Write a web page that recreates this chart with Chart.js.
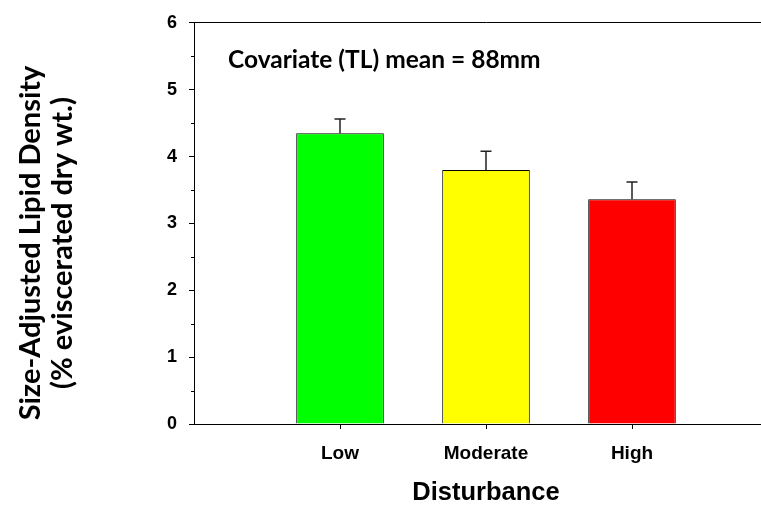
<!DOCTYPE html>
<html lang="en">
<head>
    <meta charset="UTF-8">
    <title>Size-Adjusted Lipid Density by Disturbance</title>
    <script src="https://cdn.jsdelivr.net/npm/chart.js"></script>
    <style>
        body {
            margin: 0;
            background: #fff;
            overflow: hidden;
        }
        /* the original plot runs a little past the right edge of the picture */
        .chart-box {
            width: 778px;
            height: 508px;
        }
    </style>
</head>
<body>
    <div class="chart-box">
        <canvas id="lipidChart"></canvas>
    </div>

    <script>
        // Data
        const categories = ['Low', 'Moderate', 'High'];
        const lipidMeans = [4.35, 3.80, 3.36];
        const lipidSE = [0.21, 0.28, 0.26];
        const barColors = ['#00ff00', '#ffff00', '#ff0000'];
        const yTicks = [0, 1, 2, 3, 4, 5, 6];

        // one empty slot on each side so the bars sit where the original puts them
        const labels = [''].concat(categories, ['']);
        const values = [null].concat(lipidMeans, [null]);
        const errors = [null].concat(lipidSE, [null]);
        const colors = ['#fff'].concat(barColors, ['#fff']);

        // error bars, tick marks and the free text
        const extras = {
            id: 'extras',
            afterDatasetsDraw(chart) {
                const ctx = chart.ctx;
                const y = chart.scales.y;
                const meta = chart.getDatasetMeta(0);
                ctx.save();
                ctx.strokeStyle = '#222';
                ctx.lineWidth = 1.5;
                meta.data.forEach((bar, i) => {
                    if (values[i] == null) return;
                    const yTop = y.getPixelForValue(values[i] + errors[i]);
                    const yBase = y.getPixelForValue(values[i]);
                    ctx.beginPath();
                    ctx.moveTo(bar.x, yBase);
                    ctx.lineTo(bar.x, yTop);
                    ctx.moveTo(bar.x - 5.5, yTop);
                    ctx.lineTo(bar.x + 5.5, yTop);
                    ctx.stroke();
                });
                ctx.restore();
            },
            afterDraw(chart) {
                const ctx = chart.ctx;
                const x = chart.scales.x;
                const y = chart.scales.y;
                const area = chart.chartArea;
                ctx.save();
                ctx.strokeStyle = '#000';
                ctx.lineWidth = 1;
                // minor ticks half way between the labelled ones
                for (let v = 0.5; v < 6; v += 1) {
                    const py = Math.round(y.getPixelForValue(v)) + 0.5;
                    ctx.beginPath();
                    ctx.moveTo(area.left - 3, py);
                    ctx.lineTo(area.left, py);
                    ctx.stroke();
                }
                // tick marks under the category labels
                labels.forEach((lab, i) => {
                    if (!lab) return;
                    const px = Math.round(x.getPixelForTick(i)) + 0.5;
                    ctx.beginPath();
                    ctx.moveTo(px, area.bottom);
                    ctx.lineTo(px, area.bottom + 5);
                    ctx.stroke();
                });

                ctx.fillStyle = '#000';
                ctx.font = 'bold 24.5px Lato';
                ctx.textAlign = 'left';
                ctx.textBaseline = 'alphabetic';
                ctx.fillText('Covariate (TL) mean = 88mm', 228, 68);

                // y axis title, two lines
                ctx.translate(0, 243);
                ctx.rotate(-Math.PI / 2);
                ctx.textAlign = 'center';
                ctx.textBaseline = 'middle';
                ctx.font = 'bold 29px Lato';
                ctx.fillText('Size-Adjusted Lipid Density', 0, 31);
                ctx.fillText('(% eviscerated dry wt.)', 0, 63);
                ctx.restore();
            }
        };

        const lipidChart = new Chart(document.getElementById('lipidChart'), {
            type: 'bar',
            data: {
                labels: labels,
                datasets: [{
                    data: values,
                    backgroundColor: colors,
                    borderColor: '#000',
                    borderWidth: 1,
                    borderSkipped: 'bottom',
                    categoryPercentage: 1,
                    barPercentage: 0.6
                }]
            },
            options: {
                responsive: true,
                maintainAspectRatio: false,
                animation: false,
                layout: { padding: { top: 16, left: 0, right: 0, bottom: 0 } },
                plugins: {
                    legend: { display: false },
                    tooltip: { enabled: false }
                },
                scales: {
                    x: {
                        offset: false,
                        grid: { offset: false, drawOnChartArea: false, drawTicks: false },
                        border: { color: '#000', width: 1 },
                        ticks: {
                            autoSkip: false,
                            maxRotation: 0,
                            padding: 18,
                            color: '#000',
                            font: { family: 'Liberation Sans', size: 19, weight: 'bold' }
                        },
                        title: {
                            display: true,
                            text: 'Disturbance',
                            color: '#000',
                            padding: { top: 0, bottom: 0 },
                            font: { family: 'Liberation Sans', size: 25.5, weight: 'bold' }
                        },
                        afterFit: s => {
                            s.height = 84;
                            s.paddingLeft = 0;
                            s.paddingRight = 0;
                        }
                    },
                    xTop: {
                        position: 'top',
                        grid: { display: false },
                        ticks: { display: false },
                        border: { display: true, color: '#000', width: 1 },
                        afterFit: s => { s.height = 0; }
                    },
                    y: {
                        min: 0,
                        max: 6,
                        afterBuildTicks: s => { s.ticks = yTicks.map(v => ({ value: v })); },
                        grid: { drawOnChartArea: false, tickLength: 5, tickColor: '#000' },
                        border: { color: '#000', width: 1 },
                        ticks: {
                            padding: 12,
                            color: '#000',
                            font: { family: 'Liberation Sans', size: 18, weight: 'bold' }
                        },
                        afterFit: s => { s.width = 194; }
                    }
                }
            },
            plugins: [extras]
        });
    </script>
</body>
</html>
